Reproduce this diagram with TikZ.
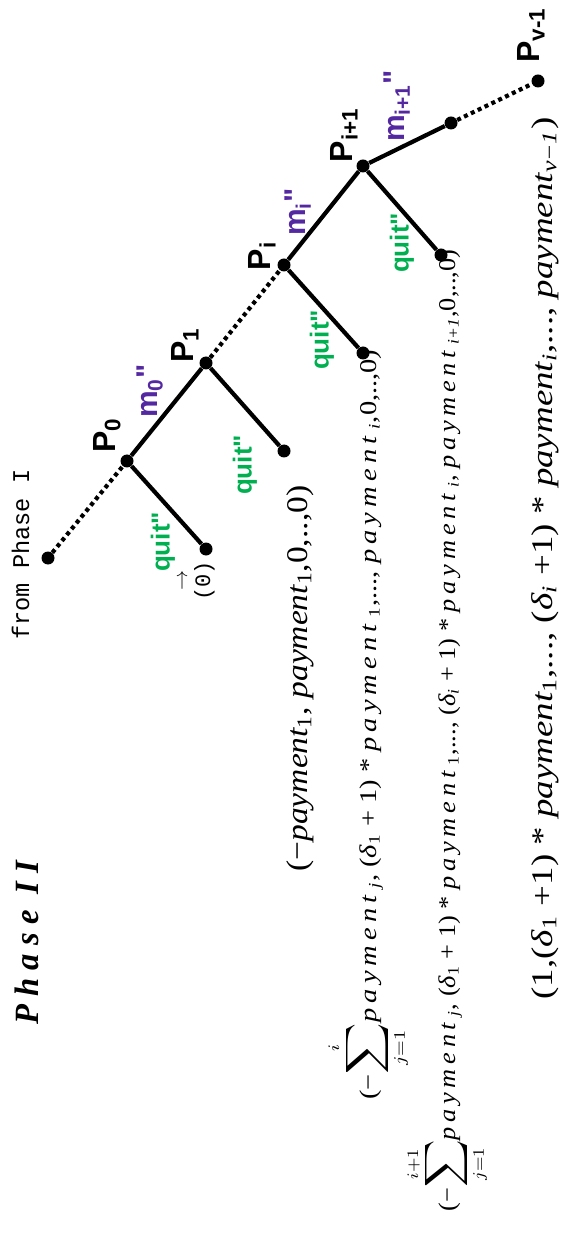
\documentclass[tikz,border=0pt]{standalone}
\usepackage{fontspec}
\usepackage{graphicx}
\setmainfont{Liberation Serif}
\newfontfamily\arialf{Liberation Sans}
\newfontfamily\monof{Liberation Mono}
\newfontfamily\spacedf[LetterSpace=18]{Liberation Serif}
\definecolor{qgreen}{RGB}{0,176,80}
\definecolor{mpurple}{RGB}{84,40,160}
\newcommand{\pay}{{\spacedf\itshape payment}}
\newcommand{\payn}{{\itshape payment}}
\newcommand{\bigsum}[2]{$\displaystyle\mathop{\mbox{\scalebox{1.5}{$\displaystyle\sum$}}}_{#1}^{#2}$}
\tikzset{
  dot/.style={circle,fill=black,inner sep=0pt,minimum size=6.5pt},
  solidl/.style={line width=2.1pt},
  dotl/.style={line width=2.1pt,dash pattern=on 2pt off 1.8pt},
  rot/.style={rotate=90,inner sep=0pt},
  plab/.style={rot,font=\arialf\bfseries\fontsize{16}{16}\selectfont},
  mlab/.style={rot,text=mpurple,font=\arialf\bfseries\fontsize{15}{15}\selectfont},
  qlab/.style={rot,text=qgreen,font=\arialf\bfseries\fontsize{13}{13}\selectfont},
  tup/.style={rot,anchor=base west},
}
\begin{document}
\begin{tikzpicture}[x=0.5pt,y=-0.5pt]
\useasboundingbox (0,0) rectangle (564,1234);
% tree nodes
\node[dot] (s)  at (48,558) {};
\node[dot] (p0) at (127,461) {};
\node[dot] (l0) at (206,549) {};
\node[dot] (p1) at (206,363) {};
\node[dot] (l1) at (284,451) {};
\node[dot] (pi) at (284,265) {};
\node[dot] (li) at (363,353) {};
\node[dot] (pj) at (363,166) {};
\node[dot] (lj) at (441,255) {};
\node[dot] (pk) at (451,123) {};
\node[dot] (pv) at (538,81) {};
% connectors
\draw[dotl] (s) -- (p0);
\draw[solidl] (p0) -- (l0);
\draw[solidl] (p0) -- (p1);
\draw[solidl] (p1) -- (l1);
\draw[dotl] (p1) -- (pi);
\draw[solidl] (pi) -- (li);
\draw[solidl] (pi) -- (pj);
\draw[solidl] (pj) -- (lj);
\draw[solidl] (pj) -- (pk);
\draw[dotl] (pk) -- (pv);
% player labels
\node[plab] (tp0) at (107,435) {P\textsubscript{0}};
\node[plab] (tp1) at (185,345) {P\textsubscript{1}};
\node[plab] (tpi) at (262,256) {P\textsubscript{i}};
\node[plab] (tpj) at (344,135) {P\textsubscript{i+1}};
\node[plab] (tpv) at (531,35) {P\textsubscript{v-1}};
% message labels
\node[mlab] (m0) at (150,391) {m\textsubscript{0}\char34};
\node[mlab] (mi) at (298,212) {m\textsubscript{i}\char34};
\node[mlab] (mj) at (397,106) {m\textsubscript{i+1}\char34};
% quit labels
\node[qlab] (q0) at (163,542) {quit\char34};
\node[qlab] (q1) at (245,465) {quit\char34};
\node[qlab] (qi) at (322,340) {quit\char34};
\node[qlab] (qj) at (402,243) {quit\char34};
% texts
\node[tup,font=\monof\fontsize{12}{12}\selectfont] (from) at (29,640) {\resizebox{85pt}{\height}{from Phase I}};
\node[tup,font=\fontsize{17}{17}\selectfont\bfseries\itshape] (ph) at (39,1025) {\resizebox{82pt}{\height}{\addfontfeature{LetterSpace=25}Phase II}};
\node[tup,font=\monof\fontsize{11}{11}\selectfont] (zero) at (210,601) {(\rlap{\raisebox{11.5pt}{\makebox[6.6pt]{\fontsize{10}{10}\selectfont$\rightarrow$}}}0)};
\node[tup,font=\fontsize{15}{15}\selectfont] (t1) at (307,872) {\resizebox{193pt}{\height}{(−\payn\textsubscript{1}, \payn\textsubscript{1},0,..,0)}};
\node[tup,font=\fontsize{12}{12}\selectfont] (t2) at (376,1100) {\resizebox{375pt}{\height}{(−\bigsum{j=1}{i}\pay\ \textsubscript{\itshape j}, (\textit{δ}\textsubscript{1} + 1) * \pay\ \textsubscript{1},..., \pay\ \textsubscript{\itshape i},0,..,0)}};
\node[tup,font=\fontsize{12}{12}\selectfont] (t3) at (455,1212) {\resizebox{481pt}{\height}{(−\bigsum{j=1}{i+1}\pay\ \textsubscript{\itshape j}, (\textit{δ}\textsubscript{1} + 1) * \pay\ \textsubscript{1},..., (\textit{δ}\textsubscript{\itshape i} + 1) * \pay\ \textsubscript{\itshape i}, \pay\ \textsubscript{\itshape i+1},0,..,0)}};
\node[tup,font=\fontsize{15}{15}\selectfont] (t4) at (552,1000) {\resizebox{441pt}{\height}{(1,(\textit{δ}\textsubscript{1} +1) * \payn\textsubscript{1},..., (\textit{δ}\textsubscript{\itshape i} +1) * \payn\textsubscript{\itshape i},..., \payn\textsubscript{\itshape v−1})}};
\end{tikzpicture}
\end{document}
